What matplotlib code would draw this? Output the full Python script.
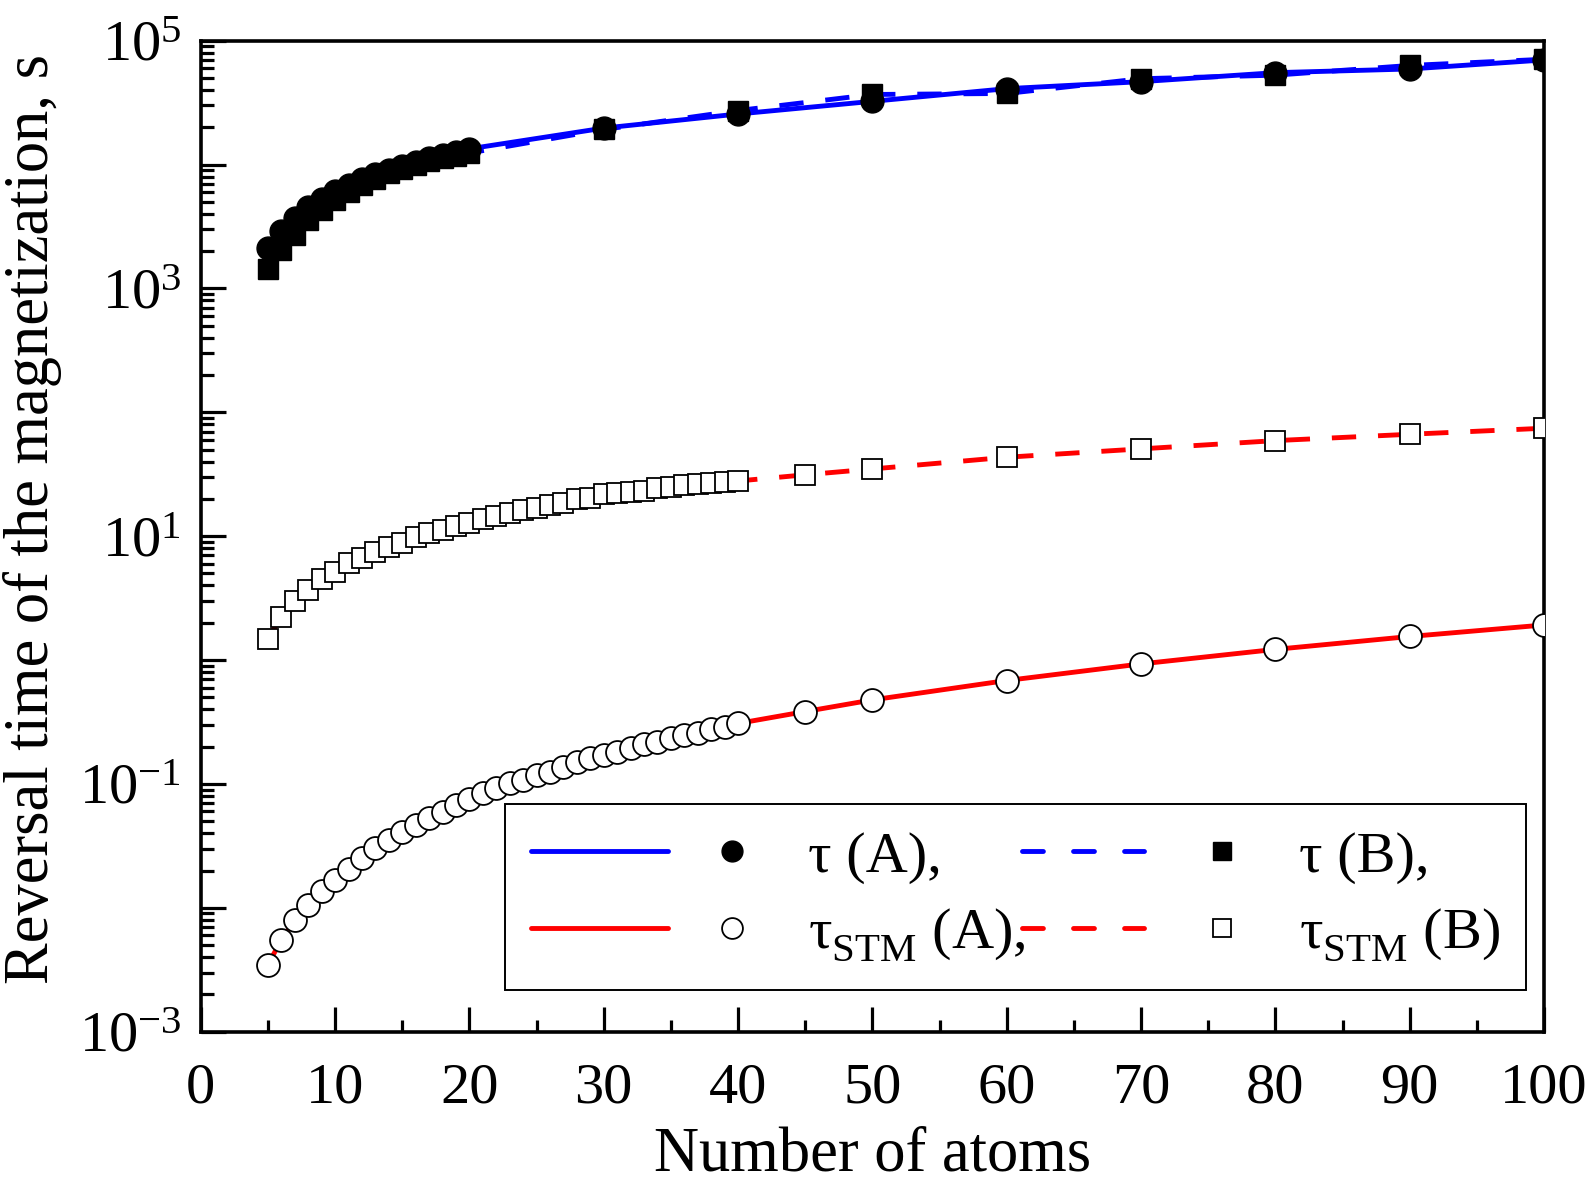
import numpy as np
import matplotlib
matplotlib.use("Agg")
import matplotlib.pyplot as plt
from matplotlib.lines import Line2D
from matplotlib.legend_handler import HandlerBase
from matplotlib.ticker import LogLocator, FuncFormatter, NullFormatter, MultipleLocator

plt.rcParams['font.family'] = ['Liberation Serif', 'DejaVu Serif']
plt.rcParams['mathtext.fontset'] = 'custom'
plt.rcParams['mathtext.rm'] = 'Liberation Serif'
plt.rcParams['mathtext.it'] = 'Liberation Serif:italic'
plt.rcParams['mathtext.bf'] = 'Liberation Serif:bold'

# ---------------- data ----------------
n_tau = list(range(5, 21)) + [30, 40, 50, 60, 70, 80, 90, 100]
tau_A = [2140, 2910, 3690, 4550, 5280, 6120, 6840, 7580, 8320, 9040, 9740,
         10500, 11200, 11900, 12600, 13400,
         19700, 25600, 32400, 41000, 46700, 55200, 59100, 69900]
tau_B = [1430, 2050, 2700, 3570, 4300, 5180, 6010, 6840, 7650, 8480, 9210,
         9930, 10600, 11200, 11800, 12400,
         19200, 27300, 36800, 37500, 49300, 52700, 63100, 70800]

n_stm = list(range(5, 41)) + [45, 50, 60, 70, 80, 90, 100]
tau_stm_A = [0.00347, 0.00552, 0.00791, 0.01057, 0.01355, 0.01683, 0.02075,
             0.0252, 0.0303, 0.0354, 0.0408, 0.0468, 0.0530, 0.0598, 0.0678,
             0.0753, 0.0843, 0.0925, 0.1014, 0.108, 0.117, 0.126, 0.138,
             0.150, 0.161, 0.172, 0.182, 0.195, 0.209, 0.220, 0.234, 0.249,
             0.260, 0.277, 0.290, 0.308,
             0.384, 0.477, 0.684, 0.931, 1.22, 1.55, 1.92]
tau_stm_B = [1.49, 2.24, 3.02, 3.69, 4.52, 5.18, 6.09, 6.72, 7.47, 8.20, 8.88,
             9.86, 10.6, 11.2, 12.1, 12.8, 13.8, 14.6, 15.4, 16.3, 16.9, 17.9,
             18.6, 20.0, 20.4, 21.9, 22.3, 22.8, 23.2, 24.5, 25.0, 25.9, 26.2,
             26.9, 27.4, 27.9,
             31.3, 34.9, 43.4, 50.7, 59.1, 66.5, 74.4]

legend_labels = ['τ (A),', 'τ$_{\\rm STM}^{\\,}$ (A),', 'τ (B),', 'τ$_{\\rm STM}^{\\,}$ (B)']
x_label = 'Number of atoms'
y_label = 'Reversal time of the magnetization, s'

# ---------------- figure ----------------
fig = plt.figure(figsize=(15.87, 11.83), dpi=100)
ax = fig.add_axes([0.1265, 0.1279, 0.8464, 0.8377])

BLUE = '#0000ff'
RED = '#ff0000'
LW = 3.5
DASH = (0, (5, 4.5))

ax.plot(n_tau, tau_B, color=BLUE, lw=LW, linestyle=DASH, zorder=2)
ax.plot(n_tau, tau_A, color=BLUE, lw=LW, zorder=2.1)
ax.plot(n_stm, tau_stm_B, color=RED, lw=LW, linestyle=DASH, zorder=2)
ax.plot(n_stm, tau_stm_A, color=RED, lw=LW, zorder=2)

ax.plot(n_tau, tau_B, linestyle='none', marker='s', ms=15, mfc='black', mec='black', zorder=3)
ax.plot(n_tau, tau_A, linestyle='none', marker='o', ms=16.5, mfc='black', mec='black', zorder=3.1)
ax.plot(n_stm, tau_stm_B, linestyle='none', marker='s', ms=15, mfc='white', mec='black', mew=1.3, zorder=3)
ax.plot(n_stm, tau_stm_A, linestyle='none', marker='o', ms=16.5, mfc='white', mec='black', mew=1.3, zorder=3)

ax.set_xlim(0, 100)
ax.set_yscale('log')
ax.set_ylim(1e-3, 1e5)

ax.xaxis.set_major_locator(MultipleLocator(10))
ax.xaxis.set_minor_locator(MultipleLocator(5))
ax.yaxis.set_major_locator(LogLocator(base=10, numticks=20))
ax.yaxis.set_minor_locator(LogLocator(base=10, subs=np.arange(2, 10), numticks=20))
ax.yaxis.set_minor_formatter(NullFormatter())


def yfmt(v, pos):
    e = int(round(np.log10(v)))
    if e % 2 == 0:
        return ''
    return '$10^{%d}$' % e


ax.yaxis.set_major_formatter(FuncFormatter(yfmt))

ax.tick_params(which='both', direction='in', top=False, right=False, width=2.3)
ax.tick_params(which='major', length=18)
ax.tick_params(which='minor', length=9)
ax.tick_params(axis='x', which='major', labelsize=42, pad=22)
ax.tick_params(axis='y', which='major', labelsize=42, pad=14)
for sp in ax.spines.values():
    sp.set_linewidth(2.6)

ax.set_xlabel(x_label, fontsize=45, labelpad=9)
ax.set_ylabel(y_label, fontsize=45)
ax.yaxis.set_label_coords(-0.1035, 0.517)


# ---------------- legend ----------------
class Entry:
    def __init__(self, line_kw, marker_kw, line_frac):
        self.line_kw = line_kw
        self.marker_kw = marker_kw
        self.line_frac = line_frac


class EntryHandler(HandlerBase):
    def __init__(self, marker_frac=0.84):
        super().__init__()
        self.marker_frac = marker_frac

    def create_artists(self, legend, orig_handle, xdescent, ydescent,
                       width, height, fontsize, trans):
        y = (height - ydescent) / 2.0
        x0 = -xdescent
        ln = Line2D([x0, x0 + width * orig_handle.line_frac], [y, y],
                    solid_capstyle='round', dash_capstyle='round',
                    **orig_handle.line_kw)
        mk = Line2D([x0 + width * self.marker_frac], [y], linestyle='none',
                    **orig_handle.marker_kw)
        ln.set_transform(trans)
        mk.set_transform(trans)
        return [ln, mk]


LEG_DASH = (0, (4.3, 6.2))
h_A = Entry(dict(color=BLUE, lw=LW), dict(marker='o', ms=15, mfc='black', mec='black'), 0.57)
h_sA = Entry(dict(color=RED, lw=LW), dict(marker='o', ms=15, mfc='white', mec='black', mew=1.3), 0.57)
h_B = Entry(dict(color=BLUE, lw=LW, linestyle=LEG_DASH), dict(marker='s', ms=13, mfc='black', mec='black'), 0.51)
h_sB = Entry(dict(color=RED, lw=LW, linestyle=LEG_DASH), dict(marker='s', ms=13, mfc='white', mec='black', mew=1.3), 0.51)

leg = ax.legend([h_A, h_sA, h_B, h_sB],
                [legend_labels[0], legend_labels[1], legend_labels[2], legend_labels[3]],
                handler_map={Entry: EntryHandler()},
                ncol=2, loc='upper left', mode='expand',
                bbox_to_anchor=(0.2265, 0.033, 0.7601, 0.1963),
                borderaxespad=0, fontsize=42, handlelength=4.1, handletextpad=0.65,
                borderpad=0.45, labelspacing=0.4, frameon=True, fancybox=False,
                framealpha=1, edgecolor='black')
leg.get_frame().set_linewidth(1.4)

fig.savefig('out.png', dpi=100)
